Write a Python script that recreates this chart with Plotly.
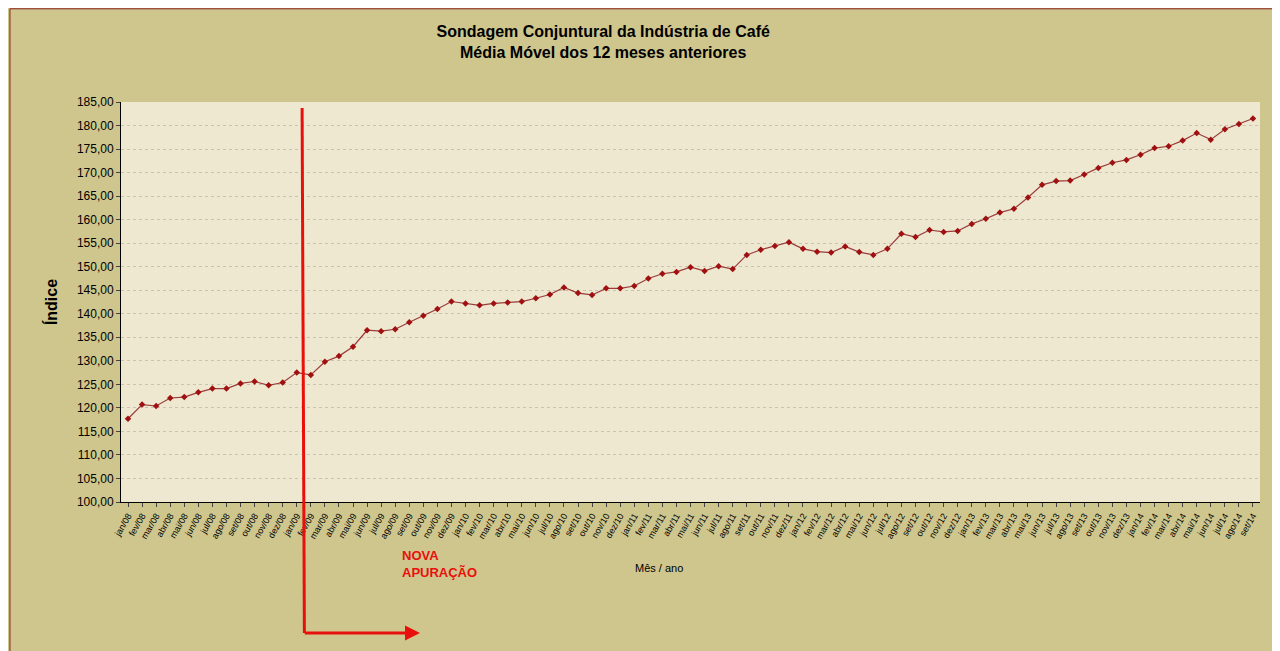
import plotly.graph_objects as go

# Meses (jan/08 a set/14)
meses_nomes = ["jan", "fev", "mar", "abr", "mai", "jun", "jul", "ago", "set", "out", "nov", "dez"]
anos = ["08", "09", "10", "11", "12", "13", "14"]
meses = [m + "/" + a for a in anos for m in meses_nomes][:81]

# Média móvel dos 12 meses anteriores
indice = [
    117.7, 120.7, 120.4, 122.1, 122.3, 123.3, 124.1, 124.1, 125.2, 125.6, 124.8, 125.4,
    127.5, 127.0, 129.8, 131.0, 133.0, 136.5, 136.3, 136.7, 138.2, 139.6, 141.0, 142.6,
    142.2, 141.8, 142.2, 142.4, 142.6, 143.3, 144.1, 145.6, 144.4, 144.0, 145.4, 145.4,
    145.9, 147.5, 148.5, 148.9, 149.9, 149.1, 150.1, 149.5, 152.5, 153.6, 154.4, 155.2,
    153.8, 153.2, 153.0, 154.3, 153.1, 152.5, 153.8, 157.0, 156.3, 157.8, 157.4, 157.6,
    159.1, 160.2, 161.5, 162.3, 164.7, 167.4, 168.2, 168.3, 169.6, 171.0, 172.1, 172.7,
    173.8, 175.2, 175.6, 176.8, 178.4, 177.0, 179.2, 180.3, 181.5,
]

fig = go.Figure()
fig.add_trace(go.Scatter(
    x=meses, y=indice, mode="lines+markers",
    line=dict(color="#9b3b3b", width=1.2),
    marker=dict(color="#a01010", size=5, symbol="diamond"),
))

fig.update_layout(
    width=1280, height=651,
    paper_bgcolor="#cfc68d", plot_bgcolor="#ede8cf",
    margin=dict(l=113, r=28, t=94, b=157),
    separators=",.",
    showlegend=False,
    font=dict(family="Liberation Sans, Arial", color="black"),
    title=dict(
        text="<b>Sondagem Conjuntural da Indústria de Café<br>Média Móvel dos 12 meses anteriores</b>",
        x=0.465, xanchor="center", y=0.955, yanchor="top", font=dict(size=16),
    ),
    xaxis=dict(
        type="category", tickangle=-60, showgrid=False,
        tickfont=dict(size=9, family="Liberation Sans, Arial"),
        ticks="outside", ticklen=4, showline=True, linecolor="black",
        range=[-0.5, 80.5],
    ),
    yaxis=dict(
        range=[100, 185], dtick=5, tickformat=".2f",
        gridcolor="#c8c3b0", griddash="dot", showline=True, linecolor="black",
        ticks="outside", ticklen=4, tickfont=dict(size=12),
        title=dict(text="<b>Índice</b>", font=dict(size=16)),
    ),
    shapes=[
        dict(type="line", xref="paper", yref="paper", x0=0.159, x1=0.161,
             y0=0.985, y1=-0.3275, line=dict(color="#e8100c", width=3)),
        dict(type="rect", xref="paper", yref="paper", x0=-0.0975, x1=1.0235,
             y0=-0.39, y1=1.233, line=dict(color="#8a2020", width=1)),
    ],
    annotations=[
        dict(x=0.2625, y=-0.3275, ax=0.16, ay=-0.3275, xref="x domain", yref="y domain",
             axref="x domain", ayref="y domain", text="", showarrow=True,
             arrowhead=2, arrowsize=1, arrowwidth=3, arrowcolor="#e8100c"),
        dict(x=0.245, y=-0.2, xref="paper", yref="paper", showarrow=False,
             text="<b>NOVA<br>APURAÇÃO</b>", align="left", xanchor="left",
             font=dict(color="#e8100c", size=13)),
        dict(x=0.472, y=-0.185, xref="paper", yref="paper", showarrow=False,
             text="Mês / ano", font=dict(size=11)),
    ],
)

fig.write_html("out.html")
